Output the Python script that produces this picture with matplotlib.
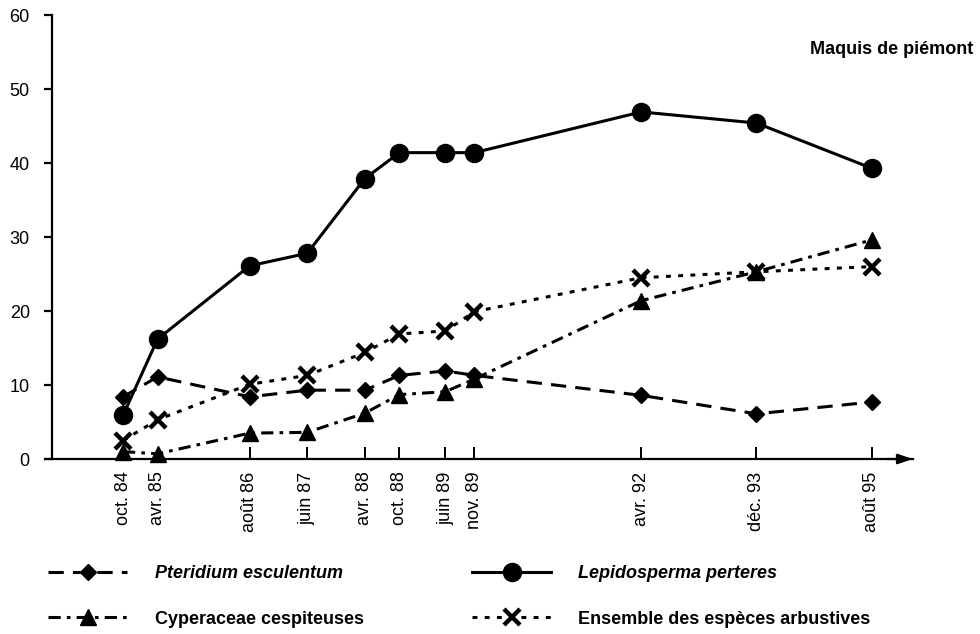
import numpy as np
import matplotlib.pyplot as plt

plt.rcParams['font.family'] = ['Liberation Sans', 'DejaVu Sans']

# survey dates (year, month) and their tick labels
dates = [(1984, 10), (1985, 4), (1986, 8), (1987, 6), (1988, 4), (1988, 10),
         (1989, 6), (1989, 11), (1992, 4), (1993, 12), (1995, 8)]
date_labels = ['oct. 84', 'avr. 85', 'août 86', 'juin 87', 'avr. 88', 'oct. 88',
               'juin 89', 'nov. 89', 'avr. 92', 'déc. 93', 'août 95']

# values (%)
pteridium = [8.4, 11.1, 8.4, 9.3, 9.3, 11.3, 11.9, 11.3, 8.6, 6.1, 7.7]
lepidosperma = [5.9, 16.2, 26.1, 27.8, 37.9, 41.4, 41.4, 41.4, 46.9, 45.4, 39.3]
cyperaceae = [1.0, 0.7, 3.5, 3.6, 6.2, 8.7, 9.1, 10.8, 21.4, 25.3, 29.6]
arbustives = [2.5, 5.3, 10.1, 11.3, 14.4, 16.9, 17.3, 19.9, 24.5, 25.3, 26.0]

# decimal years (mid-month)
x = np.array([y + (m - 0.5) / 12 for y, m in dates])

fig = plt.figure(figsize=(9.8, 6.34), dpi=100)
ax = fig.add_axes([45 / 980, 175 / 634, 868 / 980, 444 / 634])

lw = 2.2
l1, = ax.plot(x, pteridium, color='black', lw=lw, dashes=(5, 3),
              marker='D', ms=8.5, clip_on=False, zorder=3)
l2, = ax.plot(x, lepidosperma, color='black', lw=lw, ls='-',
              marker='o', ms=13, clip_on=False, zorder=4)
l3, = ax.plot(x, cyperaceae, color='black', lw=lw, dashes=(4, 2, 1.2, 2),
              marker='^', ms=11, clip_on=False, zorder=3)
l4, = ax.plot(x, arbustives, color='black', lw=lw, dashes=(1.6, 2.4),
              marker='x', ms=11, mew=3.2, clip_on=False, zorder=3)

x0 = x[0] - 78 / 69.1
ax.set_xlim(x0, x0 + 868 / 69.1)
ax.set_ylim(0, 60)

for s in ['top', 'right']:
    ax.spines[s].set_visible(False)
ax.spines['left'].set_position(('data', x[0] - 71 / 69.1))
ax.spines['left'].set_linewidth(1.6)
ax.spines['bottom'].set_linewidth(1.6)

ax.set_yticks(range(0, 61, 10))
ax.tick_params(axis='y', direction='out', length=6, width=1.6, pad=10, labelsize=13)
ax.set_xticks(x)
ax.set_xticklabels(date_labels, rotation=90, fontsize=13)
ax.tick_params(axis='x', direction='in', length=9, width=1.4, pad=9)

# arrow at end of the time axis
ax.annotate('', xy=(1.0, 0), xycoords='axes fraction', xytext=(0.97, 0),
            arrowprops=dict(arrowstyle='-|>,head_length=0.9,head_width=0.3',
                            lw=1.6, color='black', shrinkA=0, shrinkB=0),
            annotation_clip=False)

fig.text(973 / 980, 1 - 50 / 634, 'Maquis de piémont', ha='right', va='center',
         fontsize=13, fontweight='bold')

leg = fig.legend([l1, l3, l2, l4],
                 ['Pteridium esculentum', 'Cyperaceae cespiteuses',
                  'Lepidosperma perteres', 'Ensemble des espèces arbustives'],
                 ncol=2, loc='upper left', bbox_to_anchor=(48 / 980, 1 - 565 / 634),
                 frameon=False, borderpad=0, borderaxespad=0, handlelength=4.4,
                 handletextpad=1.5, columnspacing=6.0, labelspacing=1.58,
                 prop=dict(size=13, weight='bold'))
texts = leg.get_texts()
texts[0].set_style('italic')
texts[2].set_style('italic')

fig.savefig('out.png', dpi=100)
